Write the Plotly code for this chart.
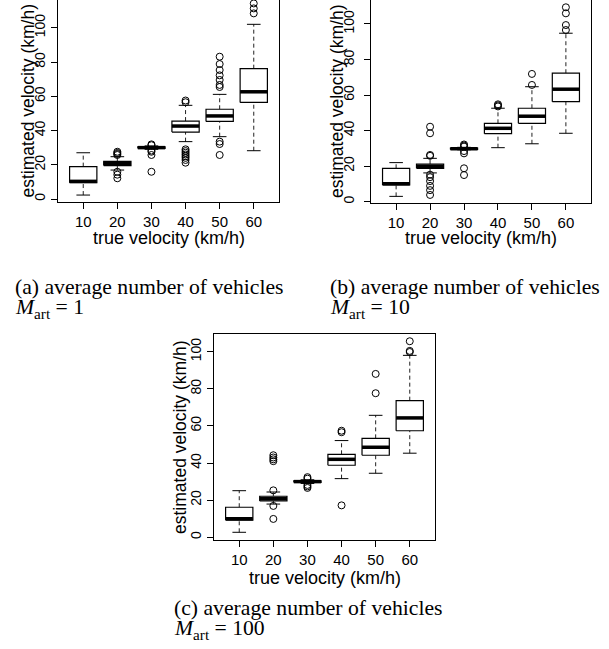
import plotly.graph_objects as go

W, H = 609, 649

velocities = [10, 20, 30, 40, 50, 60]
tick_vals_y = [0, 20, 40, 60, 80, 100]

# Panel (a): M_art = 1
a_low = [2.3, 16.9, 29.0, 33.5, 36.4, 28.2]
a_q1 = [9.5, 19.5, 29.6, 39.1, 45.3, 56.4]
a_med = [10.3, 20.7, 30.0, 42.6, 48.5, 62.6]
a_q3 = [18.9, 22.0, 30.4, 45.5, 52.4, 76.1]
a_high = [27.0, 24.7, 31.0, 54.7, 61.1, 102.0]
a_out = [
    [],
    [25.7, 26.3, 26.9, 27.6, 15.9, 14.2, 12.1],
    [31.9, 31.4, 28.3, 27.6, 25.7, 15.9],
    [56.5, 57.5, 29.0, 28.0, 27.0, 26.0, 25.0, 24.0, 22.8, 21.2],
    [65.4, 66.6, 69.5, 72.2, 75.3, 78.8, 83.1, 33.5, 32.1, 25.7],
    [108.4, 111.3, 114.2],
]

# Panel (b): M_art = 10
b_low = [3.0, 16.2, 29.2, 30.4, 32.6, 38.5]
b_q1 = [9.4, 18.8, 29.4, 38.3, 44.1, 56.3]
b_med = [10.1, 19.9, 29.8, 41.3, 48.1, 63.3]
b_q3 = [18.8, 21.2, 30.2, 44.1, 52.6, 72.3]
b_high = [22.0, 24.4, 30.6, 52.6, 64.7, 94.8]
b_out = [
    [],
    [25.8, 26.3, 38.5, 42.2, 15.2, 13.8, 11.6, 8.9, 6.5, 3.8],
    [31.0, 31.6, 32.2, 28.5, 27.2, 18.8, 15.0],
    [53.6, 54.2, 54.8],
    [65.7, 71.9],
    [96.6, 99.4, 106.0, 109.4],
]

# Panel (c): M_art = 100
c_low = [2.7, 17.9, 29.0, 31.6, 34.5, 45.3]
c_q1 = [9.3, 19.6, 29.6, 38.8, 44.2, 57.4]
c_med = [10.0, 20.8, 30.0, 42.0, 48.5, 64.3]
c_q3 = [16.2, 22.1, 30.4, 44.7, 53.3, 73.6]
c_high = [25.1, 24.4, 31.0, 52.1, 65.7, 98.0]
c_out = [
    [],
    [25.3, 41.0, 42.0, 43.0, 44.2, 16.9, 9.9],
    [31.6, 32.4, 28.2, 27.4, 26.6],
    [56.6, 57.4, 17.2],
    [77.6, 88.0],
    [99.8, 100.4, 105.6],
]

captions = [
    ("(a) average number of vehicles", "1"),
    ("(b) average number of vehicles", "10"),
    ("(c) average number of vehicles", "100"),
]

x_title = "true velocity (km/h)"
y_title = "estimated velocity (km/h)"

BOX_HALF = 4.0     # 0.4 of category spacing (10 km/h)
STAPLE_HALF = 2.0

fig = go.Figure()


def seg_lists(pairs):
    xs, ys = [], []
    for (x0, y0, x1, y1) in pairs:
        xs += [x0, x1, None]
        ys += [y0, y1, None]
    return xs, ys


def add_panel(idx, low, q1, med, q3, high, outs):
    xa = "x" if idx == 1 else f"x{idx}"
    ya = "y" if idx == 1 else f"y{idx}"
    wx, wy = seg_lists(
        [(v, q3[i], v, high[i]) for i, v in enumerate(velocities)]
        + [(v, low[i], v, q1[i]) for i, v in enumerate(velocities)]
    )
    fig.add_trace(go.Scatter(x=wx, y=wy, mode="lines", xaxis=xa, yaxis=ya,
                             line=dict(color="#222", width=1, dash="4px,3px"),
                             hoverinfo="skip", showlegend=False))
    sx, sy = seg_lists(
        [(v - STAPLE_HALF, high[i], v + STAPLE_HALF, high[i]) for i, v in enumerate(velocities)]
        + [(v - STAPLE_HALF, low[i], v + STAPLE_HALF, low[i]) for i, v in enumerate(velocities)]
    )
    fig.add_trace(go.Scatter(x=sx, y=sy, mode="lines", xaxis=xa, yaxis=ya,
                             line=dict(color="black", width=1),
                             hoverinfo="skip", showlegend=False))
    for i, v in enumerate(velocities):
        fig.add_trace(go.Scatter(
            x=[v - BOX_HALF, v + BOX_HALF, v + BOX_HALF, v - BOX_HALF, v - BOX_HALF],
            y=[q1[i], q1[i], q3[i], q3[i], q1[i]],
            mode="lines", fill="toself", fillcolor="white",
            line=dict(color="black", width=1.2), xaxis=xa, yaxis=ya,
            hoverinfo="skip", showlegend=False))
    mx, my = seg_lists([(v - BOX_HALF, med[i], v + BOX_HALF, med[i]) for i, v in enumerate(velocities)])
    fig.add_trace(go.Scatter(x=mx, y=my, mode="lines", xaxis=xa, yaxis=ya,
                             line=dict(color="black", width=3.5),
                             hoverinfo="skip", showlegend=False))
    ox, oy = [], []
    for i, v in enumerate(velocities):
        for o in outs[i]:
            ox.append(v)
            oy.append(o)
    fig.add_trace(go.Scatter(x=ox, y=oy, mode="markers", xaxis=xa, yaxis=ya,
                             marker=dict(symbol="circle-open", size=7,
                                         color="black", line=dict(width=1)),
                             hoverinfo="skip", showlegend=False))


add_panel(1, a_low, a_q1, a_med, a_q3, a_high, a_out)
add_panel(2, b_low, b_q1, b_med, b_q3, b_high, b_out)
add_panel(3, c_low, c_q1, c_med, c_q3, c_high, c_out)

# panel geometry in pixels: (left, right, top, bottom), y range, full frame,
# y-title offset, y-ticklabel standoff, x-title offset
panels = [
    (58, 279, 0, 202, [-1.75, 116.2], False, 30.5, 0, 36),
    (371, 591, 0, 203, [-0.73, 113.5], False, 34.5, 4, 35),
    (214, 435, 334, 540, [-1.45, 109.5], True, 34, 0, 38),
]

xtick_font = dict(family="Liberation Sans, Arial, sans-serif", size=15, color="black")
ytick_font = dict(family="Liberation Sans, Arial, sans-serif", size=14, color="black")
xtitle_font = dict(family="Liberation Sans, Arial, sans-serif", size=18, color="black")
ytitle_font = dict(family="Liberation Sans, Arial, sans-serif", size=17.5, color="black")
cap_font = dict(family="Liberation Serif, Times New Roman, serif", size=21.7, color="black")

annotations = []
for k, (l, r, t, b, yr, full_box, yt_off, stand, xt_off) in enumerate(panels, start=1):
    xk = "xaxis" if k == 1 else f"xaxis{k}"
    yk = "yaxis" if k == 1 else f"yaxis{k}"
    anchor_x = "y" if k == 1 else f"y{k}"
    anchor_y = "x" if k == 1 else f"x{k}"
    fig.layout[xk] = dict(
        domain=[l / W, r / W], anchor=anchor_x, range=[2.6, 67.4],
        tickmode="array", tickvals=velocities, ticktext=[str(v) for v in velocities],
        ticks="outside", ticklen=6, tickcolor="black", tickwidth=1,
        showline=True, linecolor="black", linewidth=1, mirror=full_box,
        showgrid=False, zeroline=False, tickfont=xtick_font,
    )
    fig.layout[yk] = dict(
        domain=[1 - b / H, 1 - t / H], anchor=anchor_y, range=yr,
        tickmode="array", tickvals=tick_vals_y, ticktext=[str(v) for v in tick_vals_y],
        ticks="outside", ticklen=6, tickcolor="black", tickwidth=1, tickangle=-90,
        ticklabelstandoff=stand,
        showline=True, linecolor="black", linewidth=1, mirror=True,
        showgrid=False, zeroline=False, tickfont=ytick_font,
    )
    cx = (l + r) / 2 / W
    annotations.append(dict(text=x_title, xref="paper", yref="paper",
                            x=cx, y=1 - (b + xt_off) / H, xanchor="center", yanchor="middle",
                            showarrow=False, font=xtitle_font))
    annotations.append(dict(text=y_title, xref="paper", yref="paper",
                            x=(l - yt_off) / W, y=1 - (t + b) / 2 / H, textangle=-90,
                            xanchor="center", yanchor="middle",
                            showarrow=False, font=ytitle_font))

cap_pos = [(13, 287), (328, 287), (172, 608)]
for (line1, val), (cx0, cy0) in zip(captions, cap_pos):
    annotations.append(dict(text=line1, xref="paper", yref="paper",
                            x=cx0 / W, y=1 - cy0 / H, xanchor="left", yanchor="middle",
                            showarrow=False, font=cap_font))
    annotations.append(dict(text=f"<i>M</i><sub>art</sub> = {val}", xref="paper", yref="paper",
                            x=cx0 / W, y=1 - (cy0 + 21) / H, xanchor="left", yanchor="middle",
                            showarrow=False, font=cap_font))

fig.update_layout(
    width=W, height=H, margin=dict(l=0, r=0, t=0, b=0),
    paper_bgcolor="white", plot_bgcolor="white",
    annotations=annotations, showlegend=False,
)

fig.write_html("out.html", config={"displayModeBar": False},
               post_script="document.body.style.margin='0px';")
